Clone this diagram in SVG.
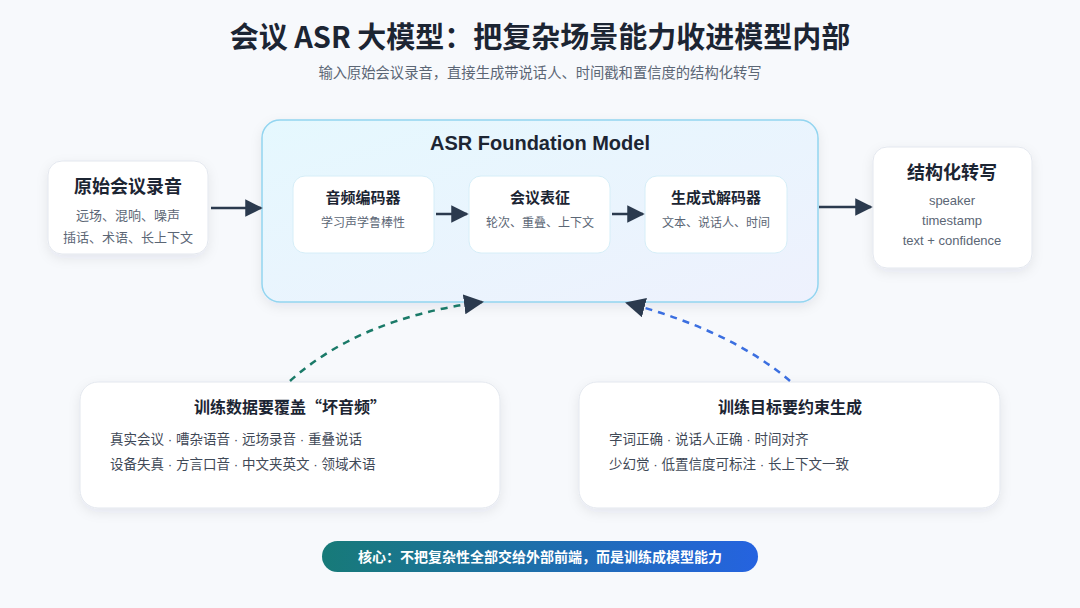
<svg xmlns="http://www.w3.org/2000/svg" width="1080" height="608" viewBox="0 0 1080 608">
<defs>
<linearGradient id="fm" x1="0" y1="0" x2="1" y2="1"><stop offset="0" stop-color="#e5f8fe"/><stop offset="1" stop-color="#eef1fd"/></linearGradient>
<linearGradient id="pill" x1="0" y1="0" x2="1" y2="0"><stop offset="0" stop-color="#177a78"/><stop offset="1" stop-color="#2563e0"/></linearGradient>
<filter id="sh" x="-20%" y="-20%" width="140%" height="150%"><feDropShadow dx="0" dy="4" stdDeviation="6" flood-color="#1e293b" flood-opacity="0.08"/></filter>
<marker id="ah" viewBox="0 0 10 10" refX="9" refY="5" markerWidth="7.5" markerHeight="7" orient="auto" markerUnits="strokeWidth"><path d="M0 0 L10 5 L0 10 Z" fill="#2b3a4e"/></marker>
<marker id="ah2" viewBox="0 0 10 10" refX="9" refY="5" markerWidth="8" markerHeight="8" orient="auto" markerUnits="strokeWidth"><path d="M0 0 L10 5 L0 10 Z" fill="#2b3a4e"/></marker>
<style>
text{font-family:"Noto Sans CJK SC","Noto Sans",sans-serif;}
.t{font-size:29px;font-weight:700;fill:#1c2533;text-anchor:middle;}
.st{font-size:14.3px;fill:#5b6675;text-anchor:middle;}
.nt{font-size:18px;font-weight:700;fill:#1c2533;text-anchor:middle;}
.ns{font-size:13px;fill:#5b6675;text-anchor:middle;}
.bt{font-size:15px;font-weight:700;fill:#1c2533;text-anchor:middle;}
.bs{font-size:12px;fill:#5b6675;text-anchor:middle;}
.en{font-family:"Liberation Sans",Arial,sans-serif;}
.card{fill:#ffffff;stroke:#e3e7ee;stroke-width:1;}
.inner{fill:#ffffff;stroke:#d6eef8;stroke-width:1;}
.ln{font-size:13.5px;fill:#3f4957;}
.d{font-family:"Liberation Sans",Arial,sans-serif;}
.arr{stroke:#2b3a4e;stroke-width:2.5;fill:none;}
</style>
</defs>
<rect width="1080" height="608" fill="#f7f9fc"/>
<text class="t" x="540" y="48">会议 ASR 大模型：把复杂场景能力收进模型内部</text>
<text class="st" x="540" y="78">输入原始会议录音，直接生成带说话人、时间戳和置信度的结构化转写</text>

<g id="input">
<rect class="card" x="48" y="161" width="160" height="93" rx="14" filter="url(#sh)"/>
<text class="nt" x="128" y="193">原始会议录音</text>
<text class="ns" x="128" y="220">远场、混响、噪声</text>
<text class="ns" x="128" y="242">插话、术语、长上下文</text>
</g>

<g id="model">
<rect x="262" y="120" width="556" height="182" rx="18" fill="url(#fm)" stroke="#93d5f0" stroke-width="1.5" filter="url(#sh)"/>
<text class="en" x="540" y="150" font-size="20" font-weight="700" fill="#1c2533" text-anchor="middle">ASR Foundation Model</text>
</g>
<g id="encoder">
<rect class="inner" x="293" y="176" width="141" height="77" rx="12"/>
<text class="bt" x="363" y="203">音频编码器</text>
<text class="bs" x="363" y="227">学习声学鲁棒性</text>
</g>
<g id="repr">
<rect class="inner" x="469" y="176" width="141" height="77" rx="12"/>
<text class="bt" x="540" y="203">会议表征</text>
<text class="bs" x="540" y="227">轮次、重叠、上下文</text>
</g>
<g id="decoder">
<rect class="inner" x="645" y="176" width="142" height="77" rx="12"/>
<text class="bt" x="716" y="203">生成式解码器</text>
<text class="bs" x="716" y="227">文本、说话人、时间</text>
</g>

<g id="output">
<rect class="card" x="873" y="147" width="159" height="121" rx="14" filter="url(#sh)"/>
<text class="nt" x="952" y="179">结构化转写</text>
<text class="ns en" x="952" y="205">speaker</text>
<text class="ns en" x="952" y="225">timestamp</text>
<text class="ns en" x="952" y="245">text + confidence</text>
</g>

<g id="data">
<rect class="card" x="80" y="382" width="420" height="126" rx="18" filter="url(#sh)"/>
<text x="290" y="413" font-size="16" font-weight="700" fill="#1c2533" text-anchor="middle">训练数据要覆盖“坏音频”</text>
<text class="ln" x="110" y="444">真实会议<tspan class="d"> · </tspan>嘈杂语音<tspan class="d"> · </tspan>远场录音<tspan class="d"> · </tspan>重叠说话</text>
<text class="ln" x="110" y="469">设备失真<tspan class="d"> · </tspan>方言口音<tspan class="d"> · </tspan>中文夹英文<tspan class="d"> · </tspan>领域术语</text>
</g>

<g id="objective">
<rect class="card" x="579" y="382" width="421" height="126" rx="18" filter="url(#sh)"/>
<text x="790" y="413" font-size="16" font-weight="700" fill="#1c2533" text-anchor="middle">训练目标要约束生成</text>
<text class="ln" x="609" y="444">字词正确<tspan class="d"> · </tspan>说话人正确<tspan class="d"> · </tspan>时间对齐</text>
<text class="ln" x="609" y="469">少幻觉<tspan class="d"> · </tspan>低置信度可标注<tspan class="d"> · </tspan>长上下文一致</text>
</g>

<g id="connectors">
<line class="arr" x1="211" y1="208" x2="261" y2="208" marker-end="url(#ah)"/>
<line class="arr" x1="436" y1="214" x2="467" y2="214" marker-end="url(#ah)"/>
<line class="arr" x1="612" y1="214" x2="643" y2="214" marker-end="url(#ah)"/>
<line class="arr" x1="819" y1="207" x2="871" y2="207" marker-end="url(#ah)"/>
<path d="M290 381 Q 360 318 482 302" fill="none" stroke="#1a7a68" stroke-width="2.5" stroke-dasharray="7 6" marker-end="url(#ah2)"/>
<path d="M790 381 Q 730 330 627 303" fill="none" stroke="#3b6fe0" stroke-width="2.5" stroke-dasharray="7 6" marker-end="url(#ah2)"/>
</g>

<g id="core">
<rect x="322" y="541" width="436" height="31" rx="15.5" fill="url(#pill)"/>
<text x="540" y="562" font-size="14" font-weight="700" fill="#ffffff" text-anchor="middle">核心：不把复杂性全部交给外部前端，而是训练成模型能力</text>
</g>
</svg>
